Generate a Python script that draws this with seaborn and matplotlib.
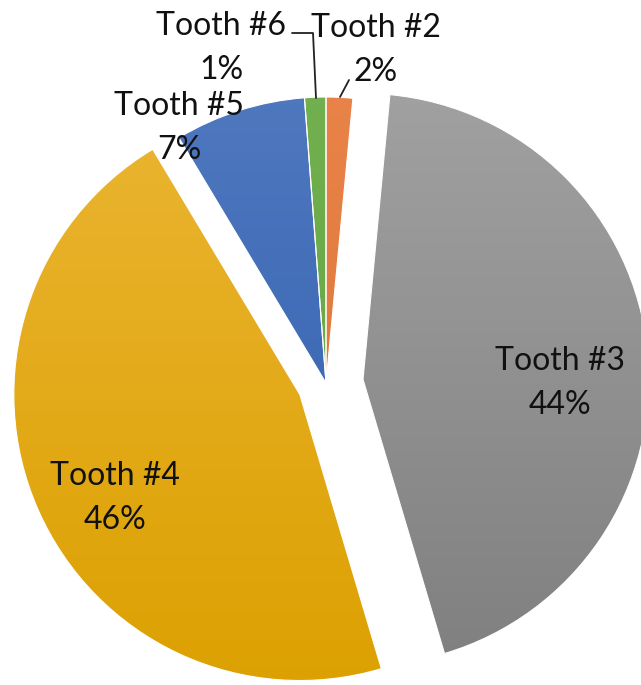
import numpy as np
import matplotlib
matplotlib.use("Agg")
import matplotlib.pyplot as plt
import seaborn as sns
from matplotlib.colors import LinearSegmentedColormap

# ---- data ----
categories = ["Tooth #2", "Tooth #3", "Tooth #4", "Tooth #5", "Tooth #6"]
percents = [1.5, 43.9, 46.0, 7.4, 1.2]
pct_labels = ["2%", "44%", "46%", "7%", "1%"]

# ---- style ----
sns.set_theme(style="white")
plt.rcParams["font.family"] = ["Lato", "DejaVu Sans"]

top_colors = ["#E9844A", "#A2A2A2", "#EBB635", "#5079BF", "#72B050"]
bot_colors = ["#DA6F2E", "#7E7E7E", "#DCA000", "#2D5BAD", "#62A23E"]
explode = [0, 0.13, 0.10, 0, 0]

fig = plt.figure(figsize=(6.41, 6.85), dpi=100)
ax = fig.add_axes([0, 0, 1, 1])

R = 286.0
cx, cy = 326.0, 383.0
W, H = 641.0, 685.0

wedges, _ = ax.pie(percents, startangle=90, counterclock=False, explode=explode,
                   colors=bot_colors, radius=1.0,
                   wedgeprops=dict(linewidth=0.8, edgecolor="white"))

# vertical gradient fill for each wedge
for w, tc, bc in zip(wedges, top_colors, bot_colors):
    cmap = LinearSegmentedColormap.from_list("g", [bc, tc])
    grad = np.linspace(0, 1, 256).reshape(-1, 1)
    im = ax.imshow(grad, cmap=cmap, aspect="auto", origin="lower",
                   extent=[-1.3, 1.3, -1.1, 1.1], zorder=0.9)
    im.set_clip_path(w)
    w.set_facecolor("none")

ax.set_xlim(-cx / R, (W - cx) / R)
ax.set_ylim(-(H - cy) / R, cy / R)
ax.set_aspect("equal")
ax.axis("off")


def px(p):
    return ((p[0] - cx) / R, (cy - p[1]) / R)


fs = 23
# label block centres (pixel positions in the reference)
label_pos = {
    "Tooth #2": (376, 50),
    "Tooth #3": (560, 383),
    "Tooth #4": (115, 498),
    "Tooth #5": (179, 128),
    "Tooth #6": (221, 48),
}
for name, pct in zip(categories, pct_labels):
    x, y = px(label_pos[name])
    ax.text(x, y, f"{name}\n{pct}", ha="center", va="center", fontsize=fs,
            color="#111111", linespacing=1.55, zorder=10)

# leader lines
l6 = [px((292, 33)), px((313, 33)), px((316, 98))]
ax.plot([p[0] for p in l6], [p[1] for p in l6], color="#222222", lw=1.3, zorder=10)
l2 = [px((340, 97)), px((349, 80))]
ax.plot([p[0] for p in l2], [p[1] for p in l2], color="#222222", lw=1.3, zorder=10)

fig.savefig("out.png", dpi=100)
